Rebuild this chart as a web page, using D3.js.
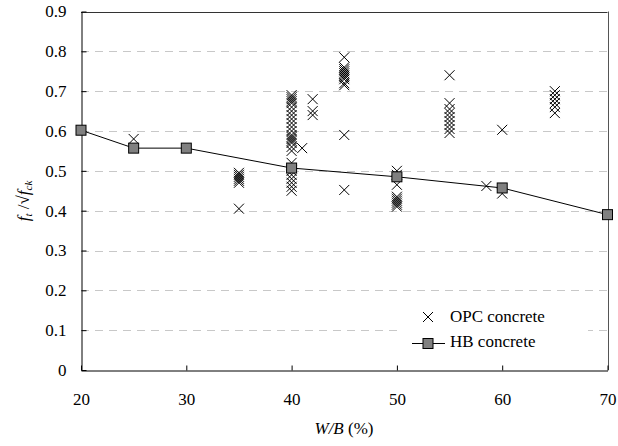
<!DOCTYPE html>
<html><head><meta charset="utf-8">
<script src="https://cdn.jsdelivr.net/npm/d3@7"></script>
<style>body{margin:0;background:#fff}svg{display:block}</style>
</head><body>
<script>
const xTicks = [20,30,40,50,60,70];
const yTicks = [0,0.1,0.2,0.3,0.4,0.5,0.6,0.7,0.8,0.9];
const hbWB = [20,25,30,40,50,60,70];
const hbVal = [0.602,0.557,0.557,0.507,0.485,0.457,0.39];
const opcWB = [25,
 35,35,35,35,35,35,35,
 40,40,40,40,40,40,40,40,40,40,40,40,40,40,40,40,40,40,40,40,40,40,40,40,40,40,
 41,42,42,42,
 45,45,45,45,45,45,45,45,45,45,45,45,
 50,50,50,50,50,50,50,50,50,
 55,55,55,55,55,55,55,55,55,
 58.5,60,60,
 65,65,65,65,65,65];
const opcVal = [0.58,
 0.495,0.49,0.485,0.48,0.475,0.47,0.405,
 0.69,0.685,0.68,0.675,0.67,0.66,0.65,0.64,0.63,0.62,0.61,0.60,0.59,0.585,0.58,0.575,0.57,0.56,0.55,0.52,0.50,0.49,0.48,0.47,0.46,0.45,
 0.557,0.68,0.65,0.64,
 0.785,0.76,0.755,0.75,0.745,0.74,0.735,0.73,0.72,0.715,0.59,0.452,
 0.50,0.49,0.465,0.435,0.43,0.425,0.42,0.415,0.41,
 0.74,0.67,0.655,0.645,0.635,0.625,0.615,0.605,0.595,
 0.462,0.603,0.443,
 0.70,0.69,0.68,0.67,0.66,0.645];

const FONT="'Liberation Serif','Times New Roman',serif";
const FS=17;
const W=618,H=446;
const svg=d3.select("body").append("svg").attr("width",W).attr("height",H).style("font-family",FONT);
const x=d3.scaleLinear().domain([20,70]).range([81,607.5]);
const y=d3.scaleLinear().domain([0,0.9]).range([370,11.5]);

svg.append("g").selectAll("line").data(yTicks.filter(d=>d>0&&d<0.9)).join("line")
 .attr("x1",x(20)).attr("x2",x(70)).attr("y1",d=>Math.round(y(d))+0.5).attr("y2",d=>Math.round(y(d))+0.5)
 .attr("stroke","#c8c8c8").attr("stroke-width",1).attr("stroke-dasharray","8,6");

// legend background (hides grid)
svg.append("rect").attr("x",402).attr("y",300).attr("width",186).attr("height",58).attr("fill","#fff");

svg.append("line").attr("x1",x(20)).attr("x2",x(70)).attr("y1",Math.round(y(0.9))+0.5).attr("y2",Math.round(y(0.9))+0.5).attr("stroke","#333");
svg.append("line").attr("x1",Math.round(x(70))+0.5).attr("x2",Math.round(x(70))+0.5).attr("y1",y(0.9)).attr("y2",y(0)).attr("stroke","#555");

const xAxis=d3.axisBottom(x).tickValues(xTicks).tickSizeInner(-5).tickSizeOuter(0).tickPadding(22);
const gx=svg.append("g").attr("transform",`translate(0,${Math.round(y(0))+0.5})`).call(xAxis);
const yAxis=d3.axisLeft(y).tickValues(yTicks).tickSizeInner(-5).tickSizeOuter(0).tickPadding(15).tickFormat(d=>d===0?"0":d3.format(".1f")(d));
const gy=svg.append("g").attr("transform",`translate(${Math.round(x(20))+0.5},0)`).call(yAxis);
[gx,gy].forEach(g=>{g.attr("font-family",FONT).attr("font-size",FS);g.selectAll("text").attr("fill","#000");
 g.selectAll("line,path").attr("stroke","#000");});

svg.append("path").datum(hbWB.map((d,i)=>[d,hbVal[i]]))
 .attr("d",d3.line().x(d=>x(d[0])).y(d=>y(d[1]))).attr("fill","none").attr("stroke","#000").attr("stroke-width",1);

const s=5;
const cross=(g,cx,cy)=>{g.append("path").attr("d",`M${cx-s},${cy-s}L${cx+s},${cy+s}M${cx-s},${cy+s}L${cx+s},${cy-s}`)
 .attr("stroke","#000").attr("stroke-width",1).attr("fill","none");};
const gOpc=svg.append("g");
opcWB.forEach((d,i)=>cross(gOpc,x(d),y(opcVal[i])));

const q=5;
svg.append("g").selectAll("rect").data(hbWB.map((d,i)=>[d,hbVal[i]])).join("rect")
 .attr("x",d=>x(d[0])-q).attr("y",d=>y(d[1])-q).attr("width",2*q).attr("height",2*q)
 .attr("fill","#808080").attr("stroke","#000").attr("stroke-width",1);

const lg=svg.append("g").attr("font-family",FONT).attr("font-size",FS);
cross(lg,428,317);
lg.append("text").attr("x",450).attr("y",322).text("OPC concrete");
lg.append("line").attr("x1",412).attr("x2",445).attr("y1",343.5).attr("y2",343.5).attr("stroke","#000");
lg.append("rect").attr("x",428-q).attr("y",343.5-q).attr("width",2*q).attr("height",2*q).attr("fill","#808080").attr("stroke","#000");
lg.append("text").attr("x",450).attr("y",347).text("HB concrete");

const xl=svg.append("text").attr("x",344).attr("y",434).attr("text-anchor","middle").attr("font-size",FS).attr("font-family",FONT);
xl.append("tspan").attr("font-style","italic").text("W/B");
xl.append("tspan").text(" (%)");

const yl=svg.append("text").attr("transform","translate(29,201) rotate(-90)").attr("text-anchor","middle").attr("font-size",FS).attr("font-family",FONT);
yl.append("tspan").attr("font-style","italic").text("f");
yl.append("tspan").attr("font-style","italic").attr("font-size",11).attr("dy",3).text("t");
yl.append("tspan").attr("dy",-3).text(" /");
yl.append("tspan").text("√");
yl.append("tspan").attr("font-style","italic").text("f");
yl.append("tspan").attr("font-style","italic").attr("font-size",11).attr("dy",3).text("ck");
</script>
</body></html>
